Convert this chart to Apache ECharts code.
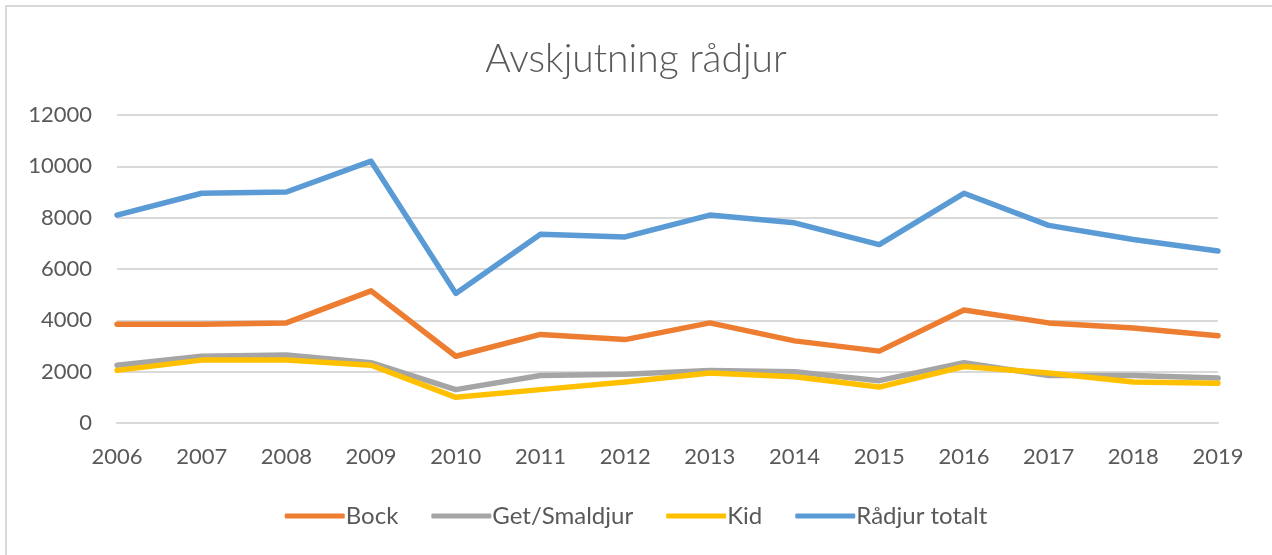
<!DOCTYPE html>
<html>
<head>
<meta charset="utf-8">
<script src="https://cdn.jsdelivr.net/npm/echarts@6/dist/echarts.min.js"></script>
<style>
html,body{margin:0;padding:0;background:#fff;overflow:hidden;}
#frame{position:absolute;left:5px;top:5px;width:1400px;height:700px;border:2px solid #d9d9d9;box-sizing:border-box;}
#chart{position:absolute;left:0;top:0;width:1272px;height:555px;}
</style>
</head>
<body>
<div id="frame"></div>
<div id="chart"></div>
<script>
const years = ['2006','2007','2008','2009','2010','2011','2012','2013','2014','2015','2016','2017','2018','2019'];
const bock = [3850,3850,3900,5150,2600,3450,3250,3900,3200,2800,4400,3900,3700,3400];
const getSmaldjur = [2250,2600,2650,2350,1300,1850,1900,2050,2000,1650,2350,1850,1850,1750];
const kid = [2050,2450,2450,2250,1000,1300,1600,1950,1800,1400,2200,1950,1600,1550];
const radjurTotalt = [8100,8950,9000,10200,5050,7350,7250,8100,7800,6950,8950,7700,7150,6700];
const yTicks = [0,2000,4000,6000,8000,10000,12000];

const FONT = 'Lato';
const chart = echarts.init(document.getElementById('chart'), null, {renderer:'canvas'});
function s(name, data, color){
  return {name, type:'line', data, symbol:'none', smooth:false,
    lineStyle:{width:5.5, color, cap:'round', join:'round'}, itemStyle:{color}};
}
chart.setOption({
  animation:false,
  title:{text:'Avskjutning rådjur', left:'center', top:35,
    textStyle:{fontFamily:FONT, fontWeight:300, fontSize:39, color:'#595959'}},
  grid:{left:117, right:54, top:115, bottom:132, containLabel:false},
  legend:{bottom:22, left:'center', itemWidth:60, itemHeight:5, itemGap:33,
    icon:'roundRect',
    textStyle:{fontFamily:FONT, fontSize:24, color:'#595959', padding:[0,0,0,-4]},
    data:['Bock','Get/Smaldjur','Kid','Rådjur totalt']},
  xAxis:{type:'category', data:years, boundaryGap:false,
    axisLine:{show:true, lineStyle:{color:'#d9d9d9', width:2}},
    axisTick:{show:false},
    axisLabel:{fontFamily:FONT, fontSize:22, color:'#595959', margin:23}},
  yAxis:{type:'value', min:yTicks[0], max:yTicks[yTicks.length-1], interval:2000,
    axisLine:{show:false}, axisTick:{show:false},
    splitLine:{lineStyle:{color:'#d9d9d9', width:2}},
    axisLabel:{fontFamily:FONT, fontSize:22, color:'#595959', margin:25,
      formatter: v => String(v)}},
  series:[
    s('Bock', bock, '#ED7D31'),
    s('Get/Smaldjur', getSmaldjur, '#A5A5A5'),
    s('Kid', kid, '#FFC000'),
    s('Rådjur totalt', radjurTotalt, '#5B9BD5')
  ]
});
</script>
</body>
</html>
